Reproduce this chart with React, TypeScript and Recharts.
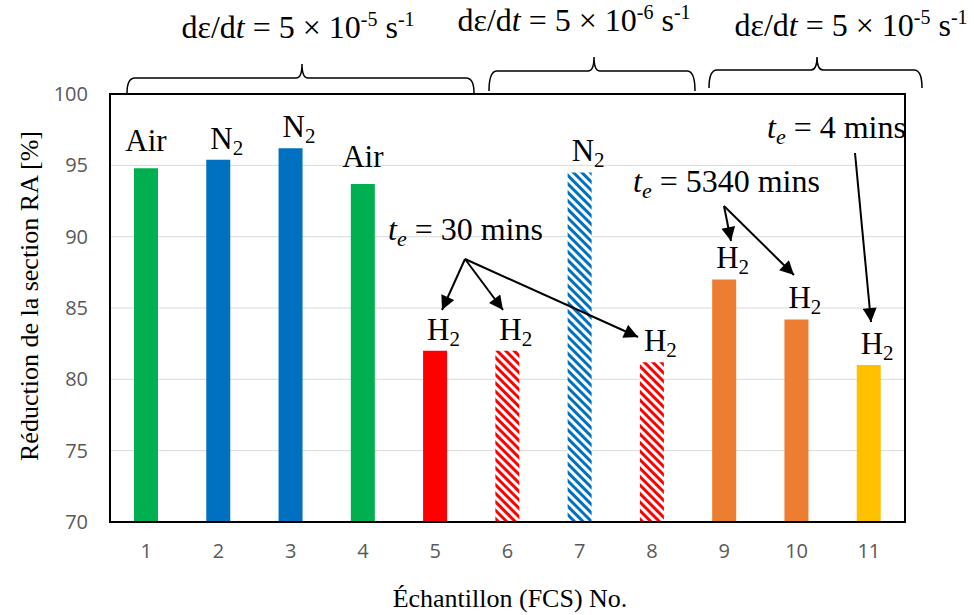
import React from "react";
import { Bar, BarChart, CartesianGrid, Cell, LabelList, XAxis, YAxis } from "recharts";

const categories = ["1", "2", "3", "4", "5", "6", "7", "8", "9", "10", "11"];
const reductionRA = [94.8, 95.4, 96.2, 93.7, 82.0, 82.0, 94.5, 81.2, 87.0, 84.2, 81.0];
const atmospheres = ["Air", "N2", "N2", "Air", "H2", "H2", "N2", "H2", "H2", "H2", "H2"];
const barColors = ["#00B050", "#0070C0", "#0070C0", "#00B050", "#FF0000", "#FF0000", "#0070C0", "#FF0000", "#ED7D31", "#ED7D31", "#FFC000"];
const hatched = [false, false, false, false, false, true, true, true, false, false, false];
const yTicks = [70, 75, 80, 85, 90, 95, 100];
const rateExponents = ["-5", "-6", "-5"];
const exposureTimes = ["30 mins", "5340 mins", "4 mins"];

const data = categories.map((name, i) => ({ name, value: reductionRA[i] }));

const W = 974;
const H = 615;
const PLOT = { left: 110, right: 905, top: 94, bottom: 522 };
const serif = "'Liberation Serif', 'Times New Roman', serif";
const tickFont = { fill: "#595959", fontSize: 20, fontFamily: "'Open Sans', sans-serif" };

function GasLabel(props: any) {
  const { x, y, width, index } = props;
  const gas = atmospheres[index];
  const cx = Number(x) + Number(width) / 2;
  const top = Number(y);
  if (gas === "Air") {
    return (
      <text x={cx} y={top - 17} textAnchor="middle" fontFamily={serif} fontSize={31} fill="#000">
        Air
      </text>
    );
  }
  return (
    <text x={cx - 8} y={top - 11} textAnchor="start" fontFamily={serif} fontSize={31} fill="#000">
      {gas[0]}
      <tspan fontSize={21} dy={6}>{gas[1]}</tspan>
    </text>
  );
}

function RateText({ x, y, exp }: { x: number; y: number; exp: string }) {
  return (
    <text x={x} y={y} textAnchor="middle" fontFamily={serif} fontSize={32} fill="#000">
      dε/d<tspan fontStyle="italic">t</tspan> = 5 × 10<tspan fontSize={20} dy={-12}>{exp}</tspan>
      <tspan dy={12}> s</tspan>
      <tspan fontSize={20} dy={-12}>-1</tspan>
    </text>
  );
}

function TeText({ x, y, label }: { x: number; y: number; label: string }) {
  return (
    <text x={x} y={y} fontFamily={serif} fontSize={32} fill="#000">
      <tspan fontStyle="italic">t</tspan>
      <tspan fontStyle="italic" fontSize={22} dy={6}>e</tspan>
      <tspan dy={-6}> = {label}</tspan>
    </text>
  );
}

function brace(x1: number, x2: number, yEnd: number, yLine: number, yPeak: number, peakX?: number) {
  const mid = peakX ?? (x1 + x2) / 2;
  return `M${x1},${yEnd} Q${x1},${yLine} ${x1 + 8},${yLine} L${mid - 6},${yLine} Q${mid},${yLine} ${mid},${yPeak} Q${mid},${yLine} ${mid + 6},${yLine} L${x2 - 8},${yLine} Q${x2},${yLine} ${x2},${yEnd}`;
}

const arrows = [
  [465, 259, 442, 310],
  [465, 259, 503, 310],
  [465, 259, 638, 337],
  [724, 206, 731, 241],
  [724, 206, 794, 275],
  [855, 153, 871, 322],
];

export default function App() {
  return (
    <div style={{ position: "absolute", left: 0, top: 0, width: W, height: H, background: "#fff" }}>
      <BarChart width={W} height={H} data={data} margin={{ top: 94, right: 69, bottom: 63, left: 60 }}>
        <defs>
          <pattern id="hatchRed" patternUnits="userSpaceOnUse" width={6} height={6} patternTransform="rotate(-45)">
            <rect width={6} height={6} fill="#fff" />
            <rect width={3} height={6} fill="#FF0000" />
          </pattern>
          <pattern id="hatchBlue" patternUnits="userSpaceOnUse" width={6} height={6} patternTransform="rotate(-45)">
            <rect width={6} height={6} fill="#fff" />
            <rect width={3} height={6} fill="#0070C0" />
          </pattern>
        </defs>
        <CartesianGrid stroke="#d9d9d9" vertical={false} />
        <XAxis dataKey="name" height={30} axisLine={false} tickLine={false} tickSize={0} tickMargin={22} tick={tickFont} />
        <YAxis
          width={50}
          domain={[70, 100]}
          ticks={yTicks}
          allowDataOverflow
          axisLine={false}
          tickLine={false}
          tickSize={0}
          tickMargin={22}
          tick={tickFont}
        />
        <Bar dataKey="value" barSize={24} isAnimationActive={false}>
          {data.map((_, i) => (
            <Cell
              key={i}
              fill={hatched[i] ? (barColors[i] === "#0070C0" ? "url(#hatchBlue)" : "url(#hatchRed)") : barColors[i]}
            />
          ))}
          <LabelList dataKey="value" content={GasLabel} />
        </Bar>
      </BarChart>
      <svg width={W} height={H} style={{ position: "absolute", left: 0, top: 0, pointerEvents: "none" }}>
        <defs>
          <marker id="arrowBig" viewBox="0 0 10 10" refX={10} refY={5} markerWidth={16} markerHeight={14} orient="auto" markerUnits="userSpaceOnUse">
            <path d="M0,0 L10,5 L0,10 z" fill="#000" />
          </marker>
        </defs>
        <rect
          x={PLOT.left}
          y={PLOT.top}
          width={PLOT.right - PLOT.left}
          height={PLOT.bottom - PLOT.top}
          fill="none"
          stroke="#000"
          strokeWidth={2}
        />
        <path d={brace(127, 474, 93, 78, 64, 302)} fill="none" stroke="#000" strokeWidth={1.5} />
        <path d={brace(489, 695, 91, 71, 57, 594)} fill="none" stroke="#000" strokeWidth={1.5} />
        <path d={brace(709, 922, 88, 70, 57, 817)} fill="none" stroke="#000" strokeWidth={1.5} />
        <RateText x={298} y={38} exp={rateExponents[0]} />
        <RateText x={574} y={31} exp={rateExponents[1]} />
        <RateText x={851} y={36} exp={rateExponents[2]} />
        <TeText x={388} y={240} label={exposureTimes[0]} />
        <TeText x={633} y={192} label={exposureTimes[1]} />
        <TeText x={767} y={138} label={exposureTimes[2]} />
        {arrows.map(([x1, y1, x2, y2], i) => (
          <line key={i} x1={x1} y1={y1} x2={x2} y2={y2} stroke="#000" strokeWidth={2} markerEnd="url(#arrowBig)" />
        ))}
        <text
          x={0}
          y={0}
          transform="translate(38,296) rotate(-90)"
          textAnchor="middle"
          fontFamily={serif}
          fontSize={26}
          fill="#000"
        >
          Réduction de la section RA [%]
        </text>
        <text x={510} y={607} textAnchor="middle" fontFamily={serif} fontSize={26} fill="#000">
          Échantillon (FCS) No.
        </text>
      </svg>
    </div>
  );
}
